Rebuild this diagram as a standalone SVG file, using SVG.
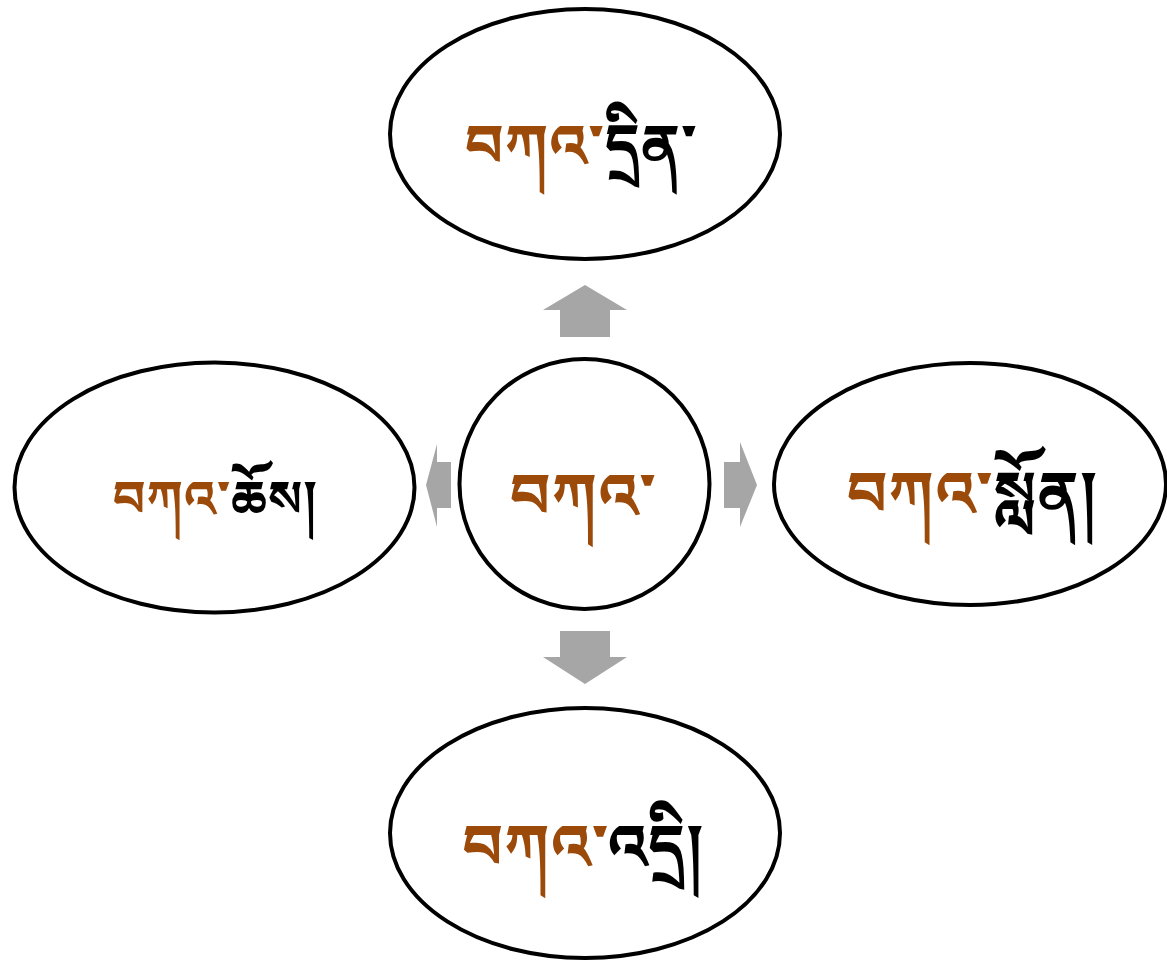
<svg xmlns="http://www.w3.org/2000/svg" width="1167" height="960" viewBox="0 0 1167 960">
<style>
.n{fill:#fff;stroke:#000;stroke-width:4}
.a{fill:#a6a6a6}
.t{font-family:"Noto Sans Tibetan","Noto Serif Tibetan","Jomolhari","DejaVu Sans",sans-serif;text-anchor:middle;font-weight:bold}
.b{fill:#9C4A0A}
.k{fill:#000}
</style>
<rect width="1167" height="960" fill="#fff"/>
<g id="connectors">
<polygon class="a" points="585,285 627,310 610,310 610,337 560,337 560,310 543,310"/>
<polygon class="a" points="585,684 627,657 610,657 610,631 560,631 560,657 543,657"/>
<polygon class="a" points="426,485 437,444 437,462 451,462 451,508 437,508 437,527"/>
<polygon class="a" points="757,485 740,442 740,462 724,462 724,508 740,508 740,527"/>
</g>
<g id="top"><ellipse class="n" cx="585" cy="134" rx="195" ry="125"/>
<text class="t" x="581" y="166" font-size="59"><tspan class="b">བཀའ་</tspan><tspan class="k">དྲིན་</tspan></text></g>
<g id="left"><ellipse class="n" cx="214.5" cy="487.5" rx="200" ry="125"/>
<text class="t" x="215" y="516" font-size="50"><tspan class="b">བཀའ་</tspan><tspan class="k">ཆོས།</tspan></text></g>
<g id="center"><circle class="n" cx="584.5" cy="484" r="125"/>
<text class="t" x="583" y="517" font-size="62"><tspan class="b">བཀའ་</tspan></text></g>
<g id="right"><ellipse class="n" cx="970" cy="484" rx="196" ry="121"/>
<text class="t" x="972" y="515" font-size="62"><tspan class="b">བཀའ་</tspan><tspan class="k">སློན།</tspan></text></g>
<g id="bottom"><ellipse class="n" cx="585" cy="833" rx="195" ry="125"/>
<text class="t" x="583" y="868" font-size="62"><tspan class="b">བཀའ་</tspan><tspan class="k">འདྲི།</tspan></text></g>
</svg>
